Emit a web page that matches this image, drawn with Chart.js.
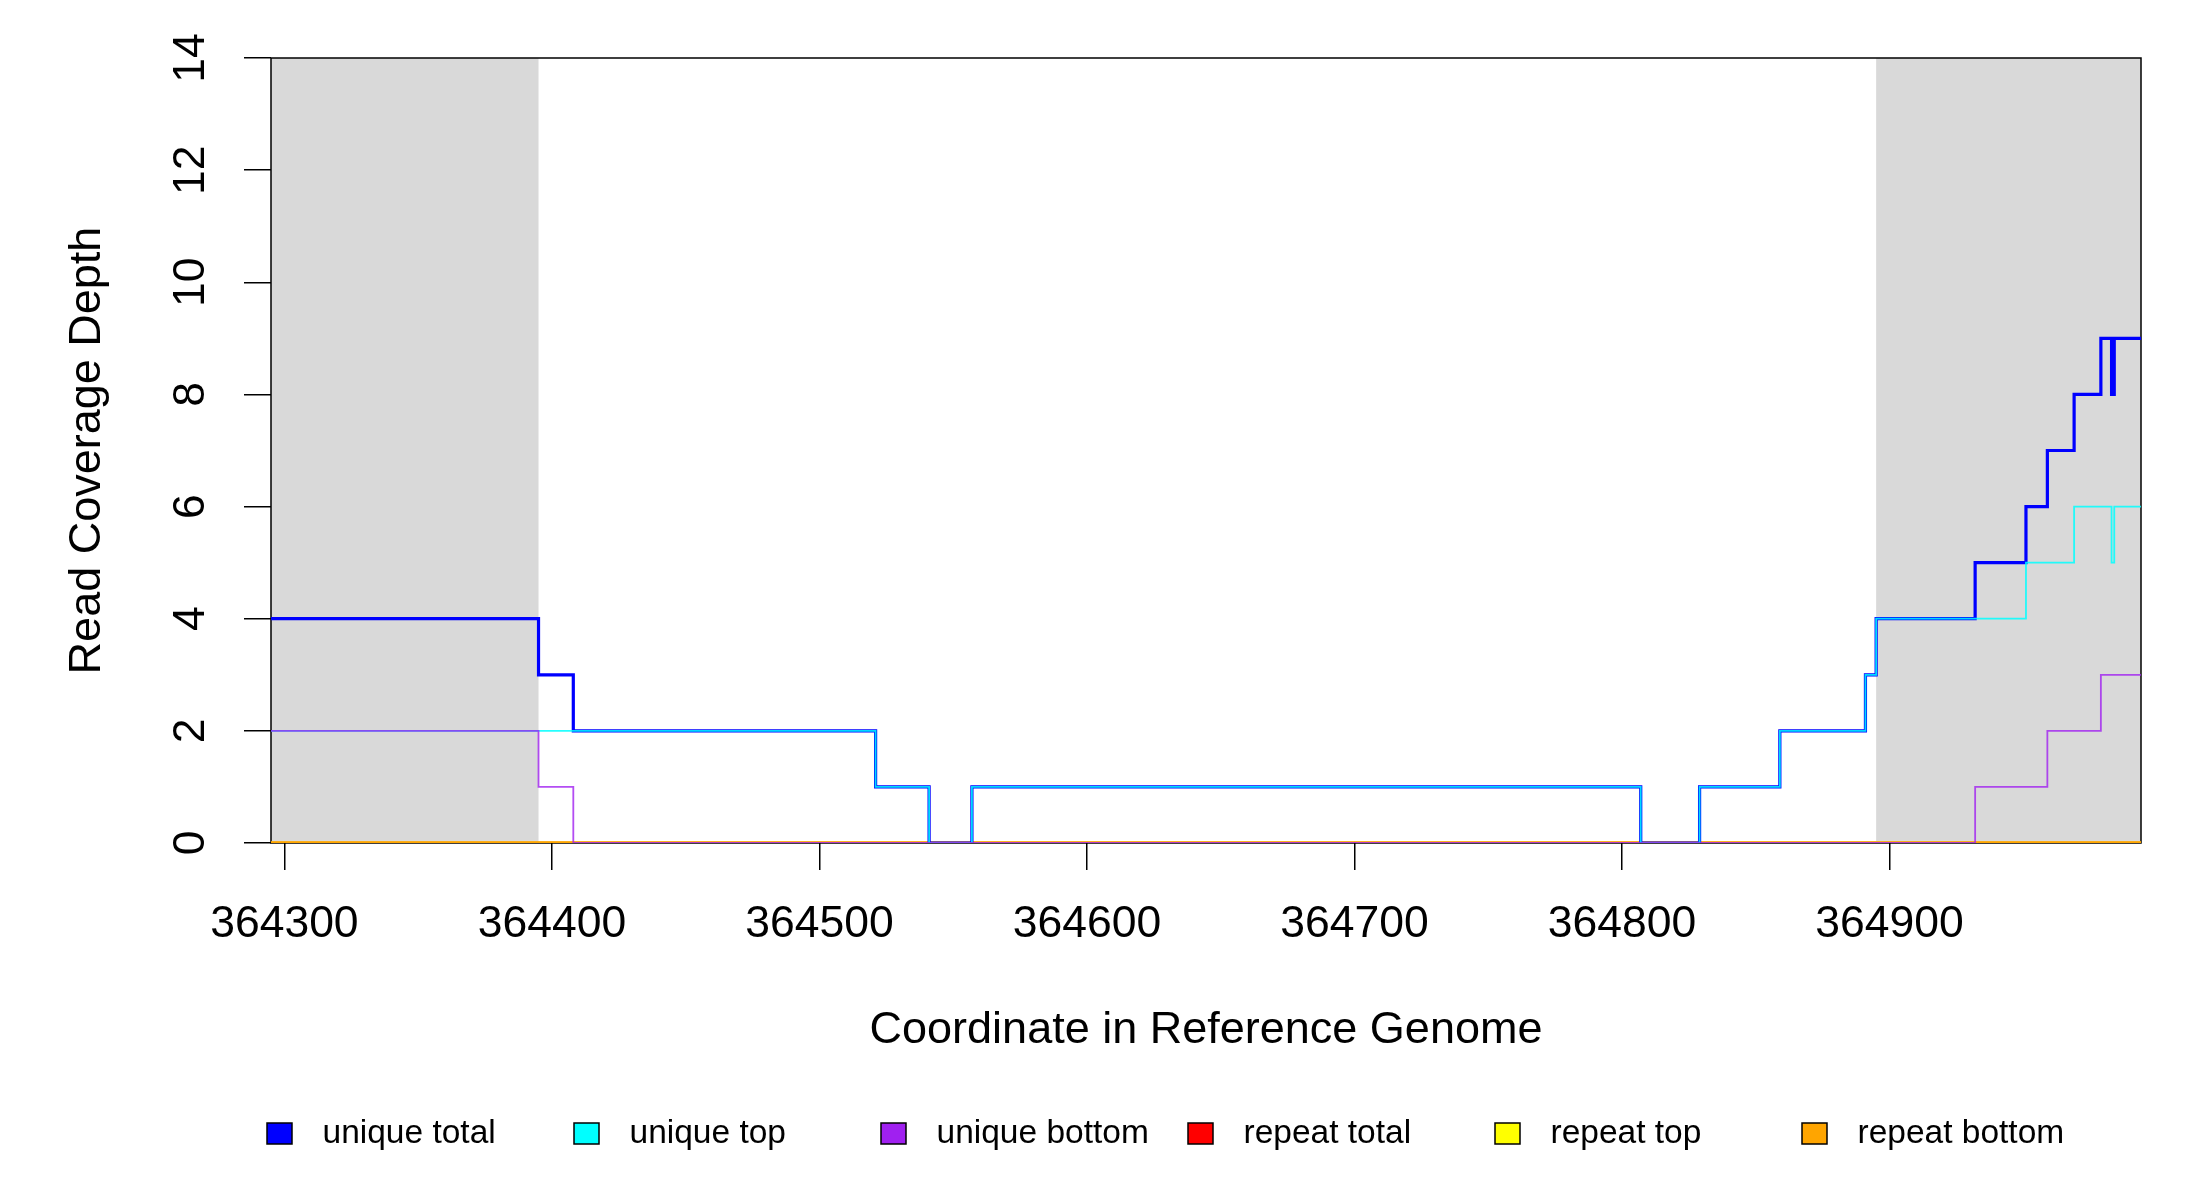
<!DOCTYPE html>
<html>
<head>
<meta charset="utf-8">
<script src="https://cdn.jsdelivr.net/npm/chart.js@4.4.0/dist/chart.umd.min.js"></script>
<style>
  html, body { margin: 0; padding: 0; background: #fff; }
  #wrap { width: 2200px; height: 1200px; }
</style>
</head>
<body>
<div id="wrap"><canvas id="coverage"></canvas></div>
<script>
// step breakpoints (each value holds until the next position)
const positions = [364295, 364395, 364408, 364521, 364541, 364557, 364807, 364829, 364859,
  364891, 364895, 364932, 364951, 364959, 364969, 364979, 364983, 364984, 364994];

const uniqueTotal  = [4, 3, 2, 1, 0, 1, 0, 1, 2, 3, 4, 5, 6, 7, 8, 9, 8, 9, 9];
const uniqueTop    = [2, 2, 2, 1, 0, 1, 0, 1, 2, 3, 4, 4, 5, 5, 6, 6, 5, 6, 6];
const uniqueBottom = [2, 1, 0, 0, 0, 0, 0, 0, 0, 0, 0, 1, 1, 2, 2, 3, 3, 3, 3];
const repeatTotal  = [0, 0, 0, 0, 0, 0, 0, 0, 0, 0, 0, 0, 0, 0, 0, 0, 0, 0, 0];
const repeatTop    = [0, 0, 0, 0, 0, 0, 0, 0, 0, 0, 0, 0, 0, 0, 0, 0, 0, 0, 0];
const repeatBottom = [0, 0, 0, 0, 0, 0, 0, 0, 0, 0, 0, 0, 0, 0, 0, 0, 0, 0, 0];

const seriesLabels = ["unique total", "unique top", "unique bottom", "repeat total", "repeat top", "repeat bottom"];
const seriesValues = [uniqueTotal, uniqueTop, uniqueBottom, repeatTotal, repeatTop, repeatBottom];
const seriesColors = ["#0000ff", "#00ffff", "#a020f0", "#ff0000", "#ffff00", "#ffa500"];

const xTicks = [364300, 364400, 364500, 364600, 364700, 364800, 364900];
const yTicks = [0, 2, 4, 6, 8, 10, 12, 14];
const xRange = [364295, 364994];
const yRange = [0, 14];

// grey shaded flanks
const shadedRegions = [[364295, 364395], [364895, 364994]];

const FONT = "'Liberation Sans', Arial, sans-serif";

// line look per series
const lineWidths = [3.2, 1.8, 1.8, 3, 3, 3];
const lineColors = ["rgba(0,0,255,1)", "rgba(0,255,255,0.85)", "rgba(160,32,240,0.8)",
  "rgba(255,0,0,1)", "rgba(255,255,0,1)", "rgba(255,165,0,1)"];
const drawOrder = [2, 1, 0, 5, 4, 3];

const datasets = seriesLabels.map((label, i) => ({
  label: label,
  data: positions.map((p, j) => ({ x: p, y: seriesValues[i][j] })),
  borderColor: lineColors[i],
  backgroundColor: seriesColors[i],
  borderWidth: lineWidths[i],
  stepped: "before",
  pointRadius: 0,
  fill: false,
  order: drawOrder[i],
}));

const shadePlugin = {
  id: "shade",
  beforeDatasetsDraw(chart) {
    const { ctx, chartArea, scales } = chart;
    ctx.save();
    ctx.fillStyle = "#d9d9d9";
    shadedRegions.forEach(([a, b]) => {
      const x0 = scales.x.getPixelForValue(a);
      const x1 = scales.x.getPixelForValue(b);
      ctx.fillRect(x0, chartArea.top, x1 - x0, chartArea.bottom - chartArea.top);
    });
    ctx.strokeStyle = "#000";
    ctx.lineWidth = 1.5;
    ctx.strokeRect(chartArea.left, chartArea.top,
      chartArea.right - chartArea.left, chartArea.bottom - chartArea.top);
    ctx.restore();
  },
};

// R-style horizontal legend with even spacing
const legendPlugin = {
  id: "rlegend",
  afterDraw(chart) {
    const { ctx } = chart;
    const startX = 267, step = 307, midY = 1134;
    ctx.save();
    ctx.font = "33.5px " + FONT;
    ctx.textBaseline = "middle";
    ctx.textAlign = "left";
    seriesLabels.forEach((label, i) => {
      const x = startX + step * i;
      ctx.fillStyle = seriesColors[i];
      ctx.fillRect(x, midY - 11, 25, 21);
      ctx.strokeStyle = "#000";
      ctx.lineWidth = 1.5;
      ctx.strokeRect(x, midY - 11, 25, 21);
      ctx.fillStyle = "#000";
      ctx.fillText(label, x + 55.5, midY);
    });
    ctx.restore();
  },
};

new Chart(document.getElementById("coverage"), {
  type: "line",
  data: { datasets },
  plugins: [shadePlugin, legendPlugin],
  options: {
    responsive: true,
    maintainAspectRatio: false,
    devicePixelRatio: 1,
    animation: false,
    layout: { padding: { top: 58, right: 59, left: 0, bottom: 0 } },
    plugins: { legend: { display: false }, tooltip: { enabled: false } },
    scales: {
      x: {
        type: "linear",
        min: xRange[0],
        max: xRange[1],
        afterBuildTicks: (s) => { s.ticks = xTicks.map((v) => ({ value: v })); },
        afterFit: (s) => { s.height = 357; },
        ticks: {
          autoSkip: false,
          maxRotation: 0,
          padding: 28,
          color: "#000",
          font: { family: FONT, size: 44.5 },
          callback: (v) => String(v),
        },
        grid: { drawOnChartArea: false, drawTicks: true, tickLength: 27, color: "#000", lineWidth: 1.5 },
        border: { display: false },
        title: {
          display: true,
          text: "Coordinate in Reference Genome",
          color: "#000",
          font: { family: FONT, size: 45 },
          padding: { top: 0, bottom: 142 },
        },
      },
      y: {
        min: yRange[0],
        max: yRange[1],
        afterBuildTicks: (s) => { s.ticks = yTicks.map((v) => ({ value: v })); },
        afterFit: (s) => { s.width = 271; },
        ticks: {
          minRotation: 90,
          maxRotation: 90,
          crossAlign: "center",
          padding: 28,
          color: "#000",
          font: { family: FONT, size: 44.5 },
          callback: (v) => String(v),
        },
        grid: { drawOnChartArea: false, drawTicks: true, tickLength: 27, color: "#000", lineWidth: 1.5 },
        border: { display: false },
        title: {
          display: true,
          text: "Read Coverage Depth",
          color: "#000",
          font: { family: FONT, size: 45 },
          padding: { top: 61, bottom: 0 },
        },
      },
    },
  },
});
</script>
</body>
</html>
